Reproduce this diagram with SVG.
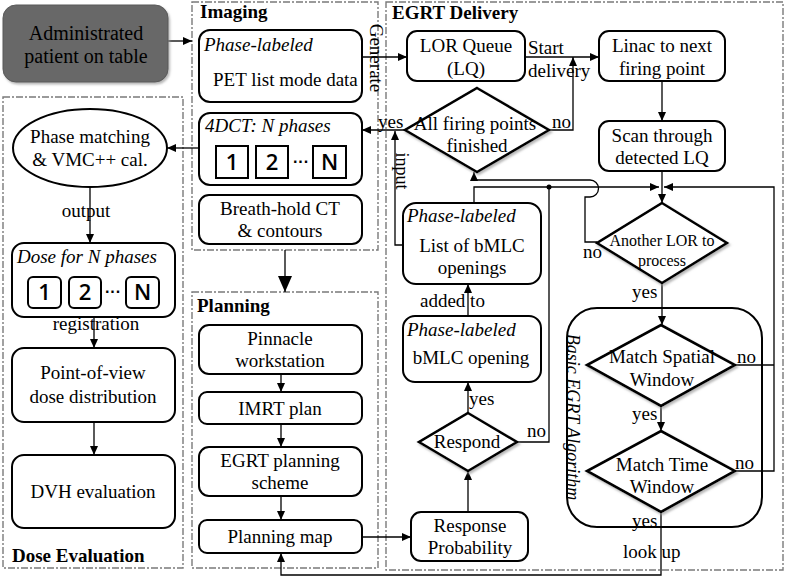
<svg xmlns="http://www.w3.org/2000/svg" width="786" height="578" viewBox="0 0 786 578">
<style>
.b{fill:#fff;stroke:#000;stroke-width:2}
.d{fill:#fff;stroke:#000;stroke-width:2.6;stroke-linejoin:miter;filter:url(#sh)}
.grp{fill:none;stroke:#7a7a7a;stroke-width:1.4;stroke-dasharray:7 2 2 2}
.t{font-family:"Liberation Serif","Times New Roman",serif;font-size:19px;fill:#000}
.c{text-anchor:middle}
.i{font-style:italic}
.h{font-weight:bold}
.s{font-size:16px}
.l{font-size:18px}
.n{font-family:"Open Sans","Liberation Sans",sans-serif;font-size:22px;font-weight:600;text-anchor:middle;fill:#000}
.dots{font-family:"Liberation Sans",sans-serif;font-size:16px;font-weight:bold;text-anchor:middle;fill:#000}
.w{fill:none;stroke:#000;stroke-width:1.3}
</style>
<defs>
<marker id="a" markerUnits="userSpaceOnUse" markerWidth="9" markerHeight="8" refX="9" refY="4" orient="auto"><path d="M0,0 L9,4 L0,8 z" fill="#000"/></marker>
<marker id="A" markerUnits="userSpaceOnUse" markerWidth="16" markerHeight="14" refX="16" refY="7" orient="auto"><path d="M0,0 L16,7 L0,14 z" fill="#000"/></marker>
<filter id="sh" x="-10%" y="-10%" width="125%" height="130%"><feDropShadow dx="1.5" dy="2" stdDeviation="1.2" flood-color="#999" flood-opacity="0.7"/></filter>
</defs>
<rect width="786" height="578" fill="#fff"/>

<g id="frames">
<rect class="grp" x="192" y="2" width="186" height="248"/>
<rect class="grp" x="3" y="97" width="180" height="471"/>
<rect class="grp" x="192" y="292" width="186" height="276"/>
<rect class="grp" x="386" y="2" width="397" height="568"/>
<text class="t h" x="200" y="18">Imaging</text>
<text class="t h" x="197" y="312">Planning</text>
<text class="t h" x="392" y="19">EGRT Delivery</text>
<text class="t h" x="12" y="562">Dose Evaluation</text>
</g>

<g id="connectors">
<path class="w" d="M168,41 H192" marker-end="url(#a)"/>
<path class="w" d="M362,57 H407" marker-end="url(#a)"/>
<path class="w" d="M525,57 H599" marker-end="url(#a)"/>
<path class="w" d="M550,130 H573 V57" marker-end="url(#a)"/>
<path class="w" d="M405,130 H362" marker-end="url(#a)"/>
<path class="w" d="M662,81 V121" marker-end="url(#a)"/>
<path class="w" d="M662,171 V203" marker-end="url(#a)"/>
<path class="w" d="M403,245 H395 V131" marker-end="url(#a)"/>
<path class="w" d="M474,203 V187 H659" marker-end="url(#a)"/>
<path class="w" d="M735,471 H774 V187 H664" marker-end="url(#a)"/>
<path class="w" d="M735,365 H774"/>
<path class="w" d="M597,242 H585 V197 H590 A8.5,8.5 0 0 0 590,180 H474 V172" marker-end="url(#a)"/>
<path class="w" d="M662,283 V325" marker-end="url(#a)"/>
<path class="w" d="M661,406 V431" marker-end="url(#a)"/>
<path class="w" d="M661,512 V575 H281 V553" marker-end="url(#a)"/>
<path class="w" d="M362,537 H411" marker-end="url(#a)"/>
<path class="w" d="M468,512 V471" marker-end="url(#a)"/>
<path class="w" d="M468,413 V382" marker-end="url(#a)"/>
<path class="w" d="M517,442 H549 V187"/>
<circle cx="549" cy="187" r="2.5" fill="#000"/>
<path class="w" d="M468,316 V284" marker-end="url(#a)"/>
<path class="w" d="M281,374 V392" marker-end="url(#a)"/>
<path class="w" d="M281,424 V447" marker-end="url(#a)"/>
<path class="w" d="M281,496 V520" marker-end="url(#a)"/>
<path class="w" d="M285,250 V292" marker-end="url(#A)"/>
<path class="w" d="M199,148 H167" marker-end="url(#a)"/>
<path class="w" d="M90,187 V243" marker-end="url(#a)"/>
<path class="w" d="M94,317 V348" marker-end="url(#a)"/>
<path class="w" d="M94,422 V455" marker-end="url(#a)"/>
<text class="t" transform="translate(370,58) rotate(90)" text-anchor="middle">Generate</text>
<text class="t l" transform="translate(396,171) rotate(90)" text-anchor="middle">input</text>
<text class="t" x="528" y="54">Start</text>
<text class="t" x="528" y="77">delivery</text>
<text class="t" x="552" y="128">no</text>
<text class="t" x="378" y="128">yes</text>
<text class="t" x="583" y="258">no</text>
<text class="t" x="632" y="298">yes</text>
<text class="t" x="737" y="363">no</text>
<text class="t" x="632" y="420">yes</text>
<text class="t" x="735" y="469">no</text>
<text class="t" x="632" y="527">yes</text>
<text class="t" x="623" y="558">look up</text>
<text class="t" x="527" y="437">no</text>
<text class="t" x="469" y="405">yes</text>
<text class="t" x="420" y="307">added to</text>
<text class="t c" x="86" y="217">output</text>
<text class="t c" x="96" y="330">registration</text>
</g>

<g id="admin">
<rect x="3" y="5" width="165" height="77" rx="13" fill="#676767" stroke="#5a5a5a" stroke-width="1" filter="url(#sh)"/>
<text class="t c" x="86" y="40" style="font-size:20px">Administrated</text>
<text class="t c" x="86" y="63" style="font-size:20px">patient on table</text>
</g>

<g id="pet">
<rect class="b" x="199" y="30" width="163" height="72" rx="11"/>
<text class="t i" x="204" y="51">Phase-labeled</text>
<text class="t" x="213" y="86">PET list mode data</text>
</g>

<g id="fourdct">
<rect class="b" x="199" y="113" width="163" height="72" rx="11"/>
<text class="t i" x="205" y="132">4DCT: N phases</text>
<rect class="b" x="216" y="146" width="32" height="32"/>
<rect class="b" x="256" y="146" width="32" height="32"/>
<rect class="b" x="313" y="146" width="33" height="32"/>
<text class="n" x="232" y="170">1</text>
<text class="n" x="272" y="170">2</text>
<text class="n" x="329.5" y="170">N</text>
<text class="dots" x="301" y="167">···</text>
</g>

<g id="breath">
<rect class="b" x="199" y="195" width="163" height="49" rx="10"/>
<text class="t c" x="280" y="215">Breath-hold CT</text>
<text class="t c" x="280" y="237">&amp; contours</text>
</g>

<g id="pinnacle">
<rect class="b" x="199" y="325" width="163" height="49" rx="10"/>
<text class="t c" x="280" y="345">Pinnacle</text>
<text class="t c" x="280" y="367">workstation</text>
</g>

<g id="imrt">
<rect class="b" x="199" y="392" width="163" height="32" rx="8"/>
<text class="t c" x="280" y="415">IMRT plan</text>
</g>

<g id="egrtplan">
<rect class="b" x="199" y="447" width="163" height="49" rx="10"/>
<text class="t c" x="280" y="467">EGRT planning</text>
<text class="t c" x="280" y="489">scheme</text>
</g>

<g id="planmap">
<rect class="b" x="199" y="520" width="163" height="33" rx="8"/>
<text class="t c" x="280" y="543">Planning map</text>
</g>

<g id="phasematch">
<ellipse class="b" cx="90" cy="148" rx="77" ry="39"/>
<text class="t c" x="90" y="143">Phase matching</text>
<text class="t c" x="90" y="166">&amp; VMC++ cal.</text>
</g>

<g id="dosephases">
<rect class="b" x="12" y="243" width="163" height="74" rx="12"/>
<text class="t i" x="17" y="263">Dose for N phases</text>
<rect class="b" x="28" y="277" width="33" height="31" rx="5"/>
<rect class="b" x="69" y="277" width="32" height="31" rx="5"/>
<rect class="b" x="126" y="277" width="33" height="31" rx="5"/>
<text class="n" x="44.5" y="300">1</text>
<text class="n" x="85" y="300">2</text>
<text class="n" x="142.5" y="300">N</text>
<text class="dots" x="113" y="297">···</text>
</g>

<g id="pov">
<rect class="b" x="12" y="348" width="163" height="74" rx="12"/>
<text class="t c" x="93" y="379">Point-of-view</text>
<text class="t c" x="93" y="403">dose distribution</text>
</g>

<g id="dvh">
<rect class="b" x="12" y="455" width="163" height="73" rx="12"/>
<text class="t c" x="93" y="498">DVH evaluation</text>
</g>

<g id="lq">
<rect class="b" x="407" y="31" width="118" height="50" rx="10"/>
<text class="t c" x="466" y="52">LOR Queue</text>
<text class="t c" x="466" y="75">(LQ)</text>
</g>

<g id="linac">
<rect class="b" x="599" y="31" width="126" height="50" rx="10"/>
<text class="t c" x="662" y="52">Linac to next</text>
<text class="t c" x="662" y="75">firing point</text>
</g>

<g id="allfiring">
<polygon class="d" points="477,88 549,130 477,172 405,130"/>
<text class="t c" x="475" y="130">All firing points</text>
<text class="t c" x="477" y="152">finished</text>
</g>

<g id="scan">
<rect class="b" x="599" y="121" width="126" height="50" rx="10"/>
<text class="t c" x="662" y="142">Scan through</text>
<text class="t c" x="662" y="164">detected LQ</text>
</g>

<g id="listbmlc">
<rect class="b" x="403" y="203" width="138" height="81" rx="13"/>
<text class="t i" x="407" y="222">Phase-labeled</text>
<text class="t c" x="472" y="252">List of bMLC</text>
<text class="t c" x="472" y="274">openings</text>
</g>

<g id="anotherlor">
<polygon class="d" points="662,203 727,243 662,283 597,243"/>
<text class="t c s" x="662" y="246">Another LOR to</text>
<text class="t c s" x="662" y="266">process</text>
</g>

<g id="bmlc">
<rect class="b" x="403" y="316" width="138" height="66" rx="12"/>
<text class="t i" x="407" y="336">Phase-labeled</text>
<text class="t c" x="471" y="364">bMLC opening</text>
</g>

<g id="respond">
<polygon class="d" points="468,413 517,442 468,471 419,442"/>
<text class="t c" x="467" y="448">Respond</text>
</g>

<g id="response">
<rect class="b" x="411" y="512" width="117" height="49" rx="10"/>
<text class="t c" x="470" y="532">Response</text>
<text class="t c" x="470" y="554">Probability</text>
</g>

<g id="basic">
<rect x="567" y="308" width="195" height="219" rx="30" fill="none" stroke="#000" stroke-width="2"/>
<text class="t i l" transform="translate(567,417) rotate(90)" text-anchor="middle">Basic EGRT Algorithm</text>
</g>

<g id="spatial">
<polygon class="d" points="661,325 735,365 661,406 587,365"/>
<text class="t c" x="662" y="363">Match Spatial</text>
<text class="t c" x="662" y="386">Window</text>
</g>

<g id="time">
<polygon class="d" points="661,431 735,471 661,512 587,471"/>
<text class="t c" x="662" y="471">Match Time</text>
<text class="t c" x="662" y="493">Window</text>
</g>
</svg>
